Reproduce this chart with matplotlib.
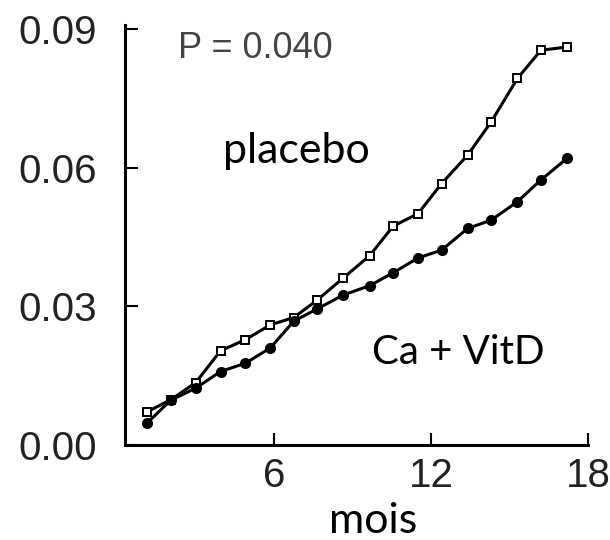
import matplotlib
matplotlib.use("Agg")
import matplotlib.pyplot as plt
from matplotlib.ticker import FormatStrFormatter

# months at which the cumulative incidence was read
months = [1.15, 2.05, 3.0, 3.95, 4.9, 5.85, 6.75, 7.65, 8.65, 9.65,
          10.55, 11.5, 12.4, 13.4, 14.3, 15.3, 16.2, 17.2]
placebo = [0.0072, 0.0098, 0.0135, 0.0204, 0.0228, 0.0260, 0.0276, 0.0314, 0.0362,
           0.0410, 0.0474, 0.0501, 0.0566, 0.0628, 0.0700, 0.0794, 0.0855, 0.0862]
ca_vitd = [0.0048, 0.0097, 0.0123, 0.0159, 0.0177, 0.0210, 0.0268, 0.0295, 0.0325,
           0.0345, 0.0373, 0.0405, 0.0422, 0.0469, 0.0487, 0.0527, 0.0574, 0.0621]
x_ticks = [6, 12, 18]
y_ticks = [0.00, 0.03, 0.06, 0.09]

fig = plt.figure(figsize=(6.1, 5.4), dpi=100)
ax = fig.add_axes([0.205, 0.176, 0.759, 0.778])

ax.plot(months, placebo, color="black", linewidth=2.2, marker="s", markersize=6,
        markerfacecolor="white", markeredgecolor="black", markeredgewidth=1.4)
ax.plot(months, ca_vitd, color="black", linewidth=2.2, marker="o", markersize=7,
        markerfacecolor="black", markeredgecolor="black")

ax.set_xlim(0.3, 18)
ax.set_ylim(0, 0.091)
ax.set_xticks(x_ticks)
ax.set_yticks(y_ticks)
ax.yaxis.set_major_formatter(FormatStrFormatter("%.2f"))

for side in ["top", "right"]:
    ax.spines[side].set_visible(False)
for side in ["left", "bottom"]:
    ax.spines[side].set_linewidth(2.2)
ax.tick_params(axis="both", direction="in", length=9, width=1.5,
               labelsize=29, labelcolor="#222222")
ax.tick_params(axis="y", pad=20)
ax.tick_params(axis="x", pad=9)
for lab in ax.get_xticklabels() + ax.get_yticklabels():
    lab.set_family("Liberation Sans")

ax.text(0.115, 0.985, "P = 0.040", transform=ax.transAxes, ha="left", va="top",
        fontsize=26, color="#444444", family="Liberation Sans")
ax.text(0.37, 0.7, "placebo", transform=ax.transAxes, ha="center", va="center",
        fontsize=31, family="Lato")
ax.text(0.72, 0.22, "Ca + VitD", transform=ax.transAxes, ha="center", va="center",
        fontsize=29, family="Lato")
fig.text(373 / 610, 1 - 533 / 540, "mois", ha="center", va="baseline",
         fontsize=31, family="Lato")

fig.savefig("out.png", dpi=100, facecolor="white")
